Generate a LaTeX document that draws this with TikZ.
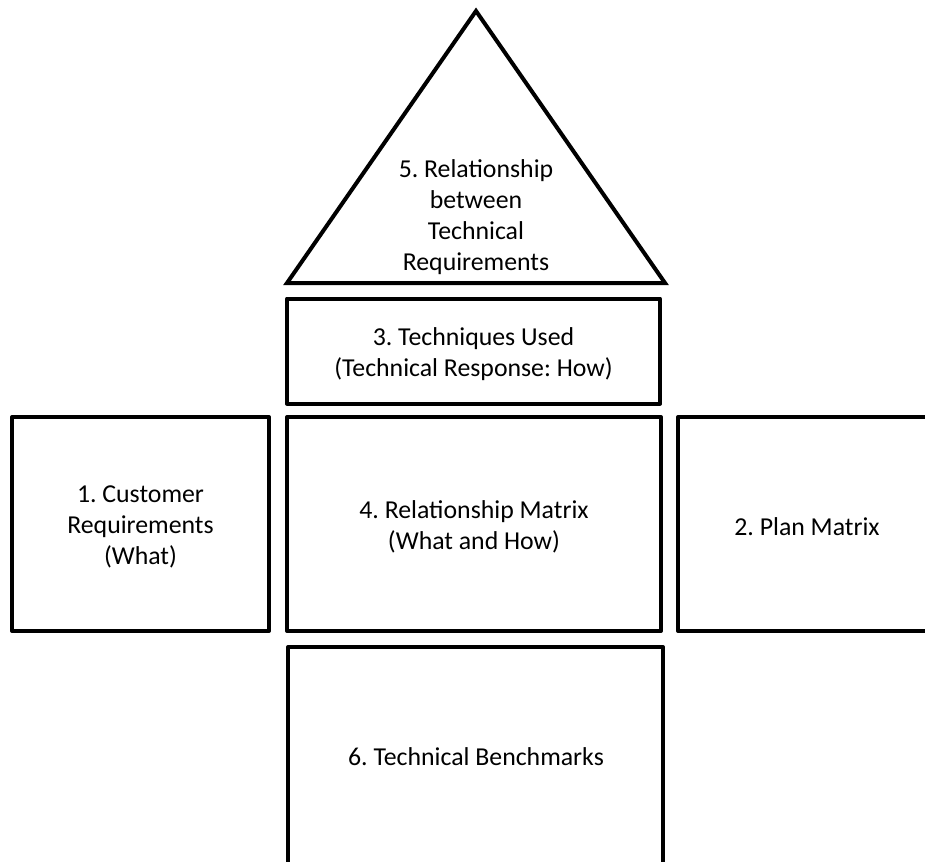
\documentclass[tikz,border=0pt]{standalone}
\usepackage{fontspec}
\setmainfont{Carlito}
\frenchspacing
\begin{document}
\begin{tikzpicture}[x=1pt,y=-1pt,
  shape line/.style={draw=black, line width=4pt, line join=round},
  boxshape/.style={shape line, rectangle, inner sep=0pt},
  lbl/.style={align=center, inner sep=0pt, font=\fontsize{25.8}{31}\selectfont}]
\useasboundingbox (0,0) rectangle (925,861);
\clip (0,0) rectangle (925,861);
% 5. triangle (roof)
\coordinate (apex) at (476,11);
\coordinate (bl) at (287,283);
\coordinate (br) at (665,283);
\draw[shape line, line join=miter] (apex) -- (bl) -- (br) -- cycle;
\node[lbl] (t5) at (476,217) {5. Relationship\\between\\Technical\\Requirements};
% 3. techniques
\node[boxshape, minimum width=373pt, minimum height=105pt] (b3) at (473.5,351) {};
\node[lbl] (t3) at ([yshift=-3pt]b3.center) {3. Techniques Used\\(Technical Response: How)};
% 1. customer requirements
\node[boxshape, minimum width=257pt, minimum height=214pt] (b1) at (140.5,524) {};
\node[lbl] (t1) at ([yshift=-3pt]b1.center) {1. Customer\\Requirements\\(What)};
% 4. relationship matrix
\node[boxshape, minimum width=374pt, minimum height=214pt] (b4) at (474,524) {};
\node[lbl] (t4) at ([yshift=-3pt]b4.center) {4. Relationship Matrix\\(What and How)};
% 2. plan matrix (runs off the right edge)
\node[boxshape, minimum width=262pt, minimum height=214pt] (b2) at (809,524) {};
\node[lbl] (t2) at (807,527) {2. Plan Matrix};
% 6. technical benchmarks (runs off the bottom edge)
\node[boxshape, minimum width=375pt, minimum height=230pt] (b6) at (475.5,762) {};
\node[lbl] (t6) at (476,757) {6. Technical Benchmarks};
\end{tikzpicture}
\end{document}
